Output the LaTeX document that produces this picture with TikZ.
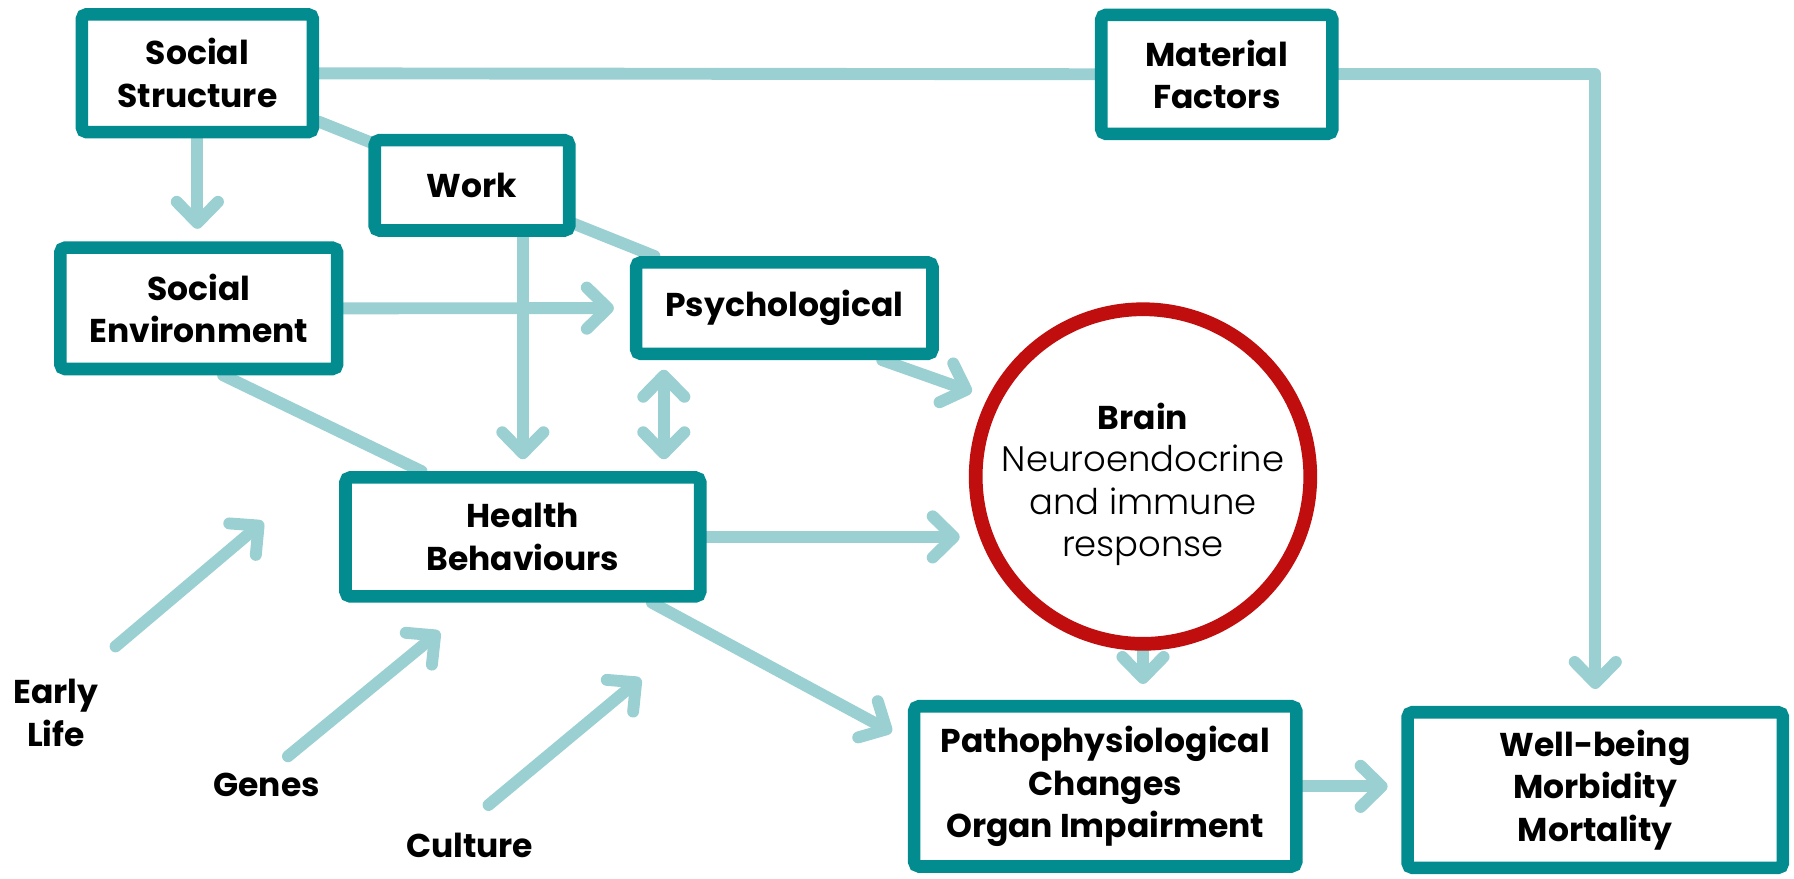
\documentclass[tikz,border=0pt]{standalone}
\usepackage{fontspec}
\setmainfont{Poppins}
\newfontfamily\ligera{Poppins Light}[BoldFont={Poppins Light}]
\usepackage{tikz}
\usetikzlibrary{arrows.meta,backgrounds,calc}
\definecolor{verde}{HTML}{028C90}
\definecolor{celeste}{HTML}{9BD0D3}
\definecolor{rojo}{HTML}{C00D0D}

\begin{document}
\begin{tikzpicture}[
  x=0.025cm,y=-0.025cm,
  every node/.style={font=\fontsize{20.5}{26.5}\selectfont\bfseries,align=center},
  caja/.style={draw=verde,fill=white,line width=0.275cm,rounded corners=3pt,inner sep=0pt},
  cerebro/.style={circle,draw=rojo,fill=white,line width=0.3cm,
                  minimum size=6.975cm,inner sep=0pt},
  linea/.style={draw=celeste,line width=0.26cm,line cap=round,line join=round},
  >={Straight Barb[length=0.46cm,width=0.9cm,round]},
  flecha/.style={linea,->,shorten >=0.3cm},
  doble/.style={linea,<->,shorten <=0.21cm,shorten >=0.26cm}
]
\useasboundingbox (0,0) rectangle (1568,768);
\foreach \n/\x/\y/\an/\al/\t in
  {ss/172.5/64/202/103/{Social\\Structure},
   mf/1063.5/65/202/104/{Material\\Factors},
   work/412.5/162/170/79/Work,
   se/173.7/269.5/242/106/{Social\\Environment},
   psych/685.5/269.3/259/80/Psychological,
   hb/457/469.3/310/104/{Health\\Behaviours},
   patho/966/687.3/334/140/{Pathophysiological\\Changes\\Organ Impairment},
   wb/1394.3/690.5/328/136/{Well-being\\Morbidity\\Mortality}} {
  \node[caja,minimum width=\an*0.025cm,minimum height=\al*0.025cm] (\n) at (\x,\y) {\t};
}
\node[cerebro] (cer) at (999,416.5)
  {\rule{0pt}{0.92cm}Brain\\\ligera\fontsize{22}{26.5}\selectfont Neuroendocrine\\
   \ligera\fontsize{22}{26.5}\selectfont and immune\\
   \ligera\fontsize{22}{26.5}\selectfont response};
\coordinate (pd) at ($(psych.south west)+(29.7,0)$);

\begin{scope}[on background layer]
\draw[linea] (ss) -- (mf);
\draw[linea] (ss) -- (psych);
\draw[linea] (se.-70) -- (hb.147);
\draw[flecha,shorten >=0.37cm] (mf.east) -| (wb.north);
\draw[flecha,shorten >=0.275cm] (ss) -- (ss |- se.north);
\draw[flecha,shorten >=0.35cm] (se.east) -- (psych.west);
\draw[flecha,shorten >=0.26cm] (work.south -| hb.north) -- (hb.north);
\draw[doble] (pd) -- (pd |- hb.north);
\draw[flecha,shorten >=0.37cm] (psych.-28.5) -- (cer.153);
\draw[flecha,shorten >=0.2cm] (hb.east) -- (hb.east -| cer.west);
\draw[flecha,shorten >=0.4cm] (hb.-27.7) -- (patho.167);
\draw[flecha,shorten >=0.35cm] (cer.south) -- (cer.south |- patho.north);
\draw[flecha] (patho.east) -- (patho.east -| wb.west);
\end{scope}

\foreach \n/\x/\y/\ax/\ay/\bx/\by/\t in
  {vida/49/623/101/565/230/456/{Early\\Life},
   genes/233/686/251.7/661/384.3/552/Genes,
   cultura/410.5/738.6/427/703.6/560/593/Culture} {
  \node (\n) at (\x,\y) {\t};
  \coordinate (\n0) at (\ax,\ay);
  \coordinate (\n1) at (\bx,\by);
  \draw[flecha,shorten >=0pt] (\n0) -- (\n1);
}
\end{tikzpicture}
\end{document}
